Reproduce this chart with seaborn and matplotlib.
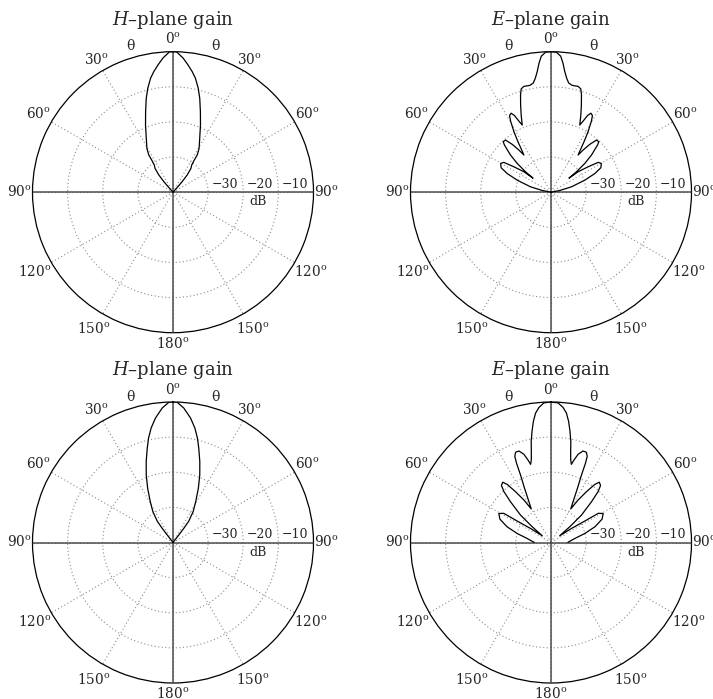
import numpy as np
import pandas as pd
import matplotlib
matplotlib.use("Agg")
import matplotlib.pyplot as plt
import seaborn as sns

# Half patterns (theta >= 0, degrees from broadside); gains in dB, floor at -40 dB.
# Each pattern is symmetric, the negative-theta side is its mirror image.
h_top_theta = [0, 1.4, 4.3, 6.7, 9.0, 11.1, 13.6, 15.9, 18.8, 22.2, 26.4, 30.8,
               33.0, 33.6, 34.5, 37.0, 39.5, 41.0, 42.0, 45.0, 90.0]
h_top_gain = [0, 0.0, -1.7, -3.5, -5.2, -6.9, -9.5, -12.2, -15.8, -19.3, -22.9, -25.5,
              -27.3, -29.2, -30.6, -31.5, -33.7, -36.1, -38.6, -40.0, -40.0]

e_top_theta = [0, 2.2, 4.1, 5.3, 6.5, 7.8, 9.2, 11.2, 14.4, 16.1, 17.4, 19.2, 21.1,
               23.2, 24.3, 25.5, 26.8, 28.4, 29.6, 31.5, 33.2, 35.0, 36.1,
               37.3, 39.0, 41.1, 43.4, 44.6, 47.5, 49.6, 51.3, 52.0,
               53.0, 55.6, 57.7, 60.3, 63.9, 66.9, 70.4, 75.3, 79.0, 85.0, 90.0]
e_top_gain = [0, -0.1, -1.2, -3.1, -5.4, -7.2, -8.5, -9.0, -8.9, -9.4, -11.0, -13.7, -16.4,
              -19.2, -17.8, -15.8, -14.8, -15.2, -16.7, -19.8, -22.8, -25.7, -26.9,
              -24.9, -22.5, -20.3, -20.2, -21.1, -24.4, -27.4, -30.7, -33.5,
              -30.3, -27.2, -24.1, -23.5, -24.2, -26.4, -29.8, -34.0, -37.5, -40.0, -40.0]

h_bot_theta = [0, 1.6, 4.6, 8.0, 10.8, 13.2, 15.3, 18.3, 21.6, 25.1, 29.1, 33.1,
               36.5, 37.3, 37.7, 38.0, 90.0]
h_bot_gain = [0, 0.0, -1.6, -4.2, -6.8, -9.5, -12.2, -15.7, -19.3, -23.0, -26.7, -29.5,
              -32.5, -35.0, -37.4, -40.0, -40.0]

e_bot_theta = [0, 2.9, 5.1, 6.8, 8.3, 9.7, 11.1, 12.2, 13.4, 14.6,
               15.6, 17.1, 19.3, 21.4, 22.8, 23.5, 24.3, 26.0, 28.4, 30.5,
               32.5, 34.9, 37.0, 38.7, 41.0, 42.8, 44.8, 48.0, 50.0, 52.4,
               55.5, 57.6, 58.3, 60.9, 65.4, 70.3, 75.0, 80.4, 88.9, 90.0]
e_bot_gain = [0, -0.2, -1.4, -2.9, -5.2, -7.9, -10.7, -13.5, -15.8, -17.0,
              -15.6, -13.7, -12.4, -12.4, -13.4, -15.4, -18.9, -22.8, -26.8, -28.9,
              -25.7, -22.4, -19.3, -18.0, -18.5, -20.3, -23.6, -28.3, -33.0, -36.9,
              -33.0, -28.6, -24.2, -23.0, -24.0, -26.7, -30.0, -33.1, -35.1, -35.2]

db_rings = [-30, -20, -10]
db_floor = -40
angle_labels = {0: "0", 30: "30", 60: "60", 90: "90", 120: "120", 150: "150",
                180: "180", 210: "150", 240: "120", 270: "90", 300: "60", 330: "30"}
label_radius = {0: 1.085, 30: 1.085, 60: 1.107, 90: 1.09, 120: 1.135, 150: 1.13,
                180: 1.082, 210: 1.13, 240: 1.135, 270: 1.09, 300: 1.107, 330: 1.085}

sns.set_theme(style="white")
plt.rcParams["font.family"] = ["DejaVu Serif"]
plt.rcParams["mathtext.fontset"] = "dejavuserif"


def mirrored(theta, gain):
    t = np.asarray(theta, float)
    g = np.asarray(gain, float)
    return np.concatenate([-t[::-1], t[1:]]), np.concatenate([g[::-1], g[1:]])


def rad(frac):
    # radial position (dB units) for a fraction of the outer radius
    return db_floor + (0 - db_floor) * frac


def gain_plot(rect, theta, gain, title):
    ax = fig.add_axes(rect, projection="polar")
    ax.set_theta_zero_location("N")
    ax.set_theta_direction(-1)

    th, g = mirrored(theta, gain)
    df = pd.DataFrame({"theta": np.deg2rad(th), "gain": g})
    sns.lineplot(data=df, x="theta", y="gain", ax=ax, sort=False, estimator=None,
                 color="black", lw=0.9, zorder=5)
    ax.set_rlim(db_floor, 0)
    ax.set_xlabel("")
    ax.set_ylabel("")

    ax.set_rticks(db_rings)
    ax.set_yticklabels([])
    ax.set_xticks(np.deg2rad(np.arange(0, 360, 30)))
    ax.set_xticklabels([])
    ax.grid(True, ls=(0, (1, 2.2)), color="0.55", lw=0.8)
    ax.spines["polar"].set_color("black")
    ax.spines["polar"].set_linewidth(0.9)

    for a in (0, 90, 180, 270):
        ax.plot([np.deg2rad(a)] * 2, [db_floor, 0], color="0.3", lw=1.1, zorder=3)

    for a, txt in angle_labels.items():
        ax.text(np.deg2rad(a), rad(label_radius[a]), txt + r"$^{\mathrm{o}}$",
                ha="center", va="center", fontsize=9.8, clip_on=False)
    for a in (-16.4, 16.4):
        ax.text(np.deg2rad(a), rad(1.081), "θ", ha="center", va="center",
                fontsize=10, clip_on=False)

    for d in db_rings:
        ax.annotate("−%d" % abs(d), xy=(np.pi / 2, d), xytext=(2.5, 3.0),
                    textcoords="offset points", ha="left", va="baseline",
                    fontsize=9, annotation_clip=False)
    ax.annotate("dB", xy=(np.pi / 2, -20), xytext=(11, -7),
                textcoords="offset points", ha="center", va="center", fontsize=9)

    ax.text(0.5, 1.095, title, transform=ax.transAxes, ha="center",
            va="baseline", fontsize=13)
    return ax


fig = plt.figure(figsize=(7.13, 6.99), dpi=100)
w, h = 281 / 713, 281 / 699
left_x, right_x = (173 - 140.5) / 713, (551 - 140.5) / 713
top_y, bot_y = (699 - 332.7) / 699, (699 - 683.0) / 699

gain_plot([left_x, top_y, w, h], h_top_theta, h_top_gain, r"$H$–plane gain")
gain_plot([right_x, top_y, w, h], e_top_theta, e_top_gain, r"$E$–plane gain")
gain_plot([left_x, bot_y, w, h], h_bot_theta, h_bot_gain, r"$H$–plane gain")
gain_plot([right_x, bot_y, w, h], e_bot_theta, e_bot_gain, r"$E$–plane gain")

fig.savefig("out.png", dpi=100, facecolor="white")
